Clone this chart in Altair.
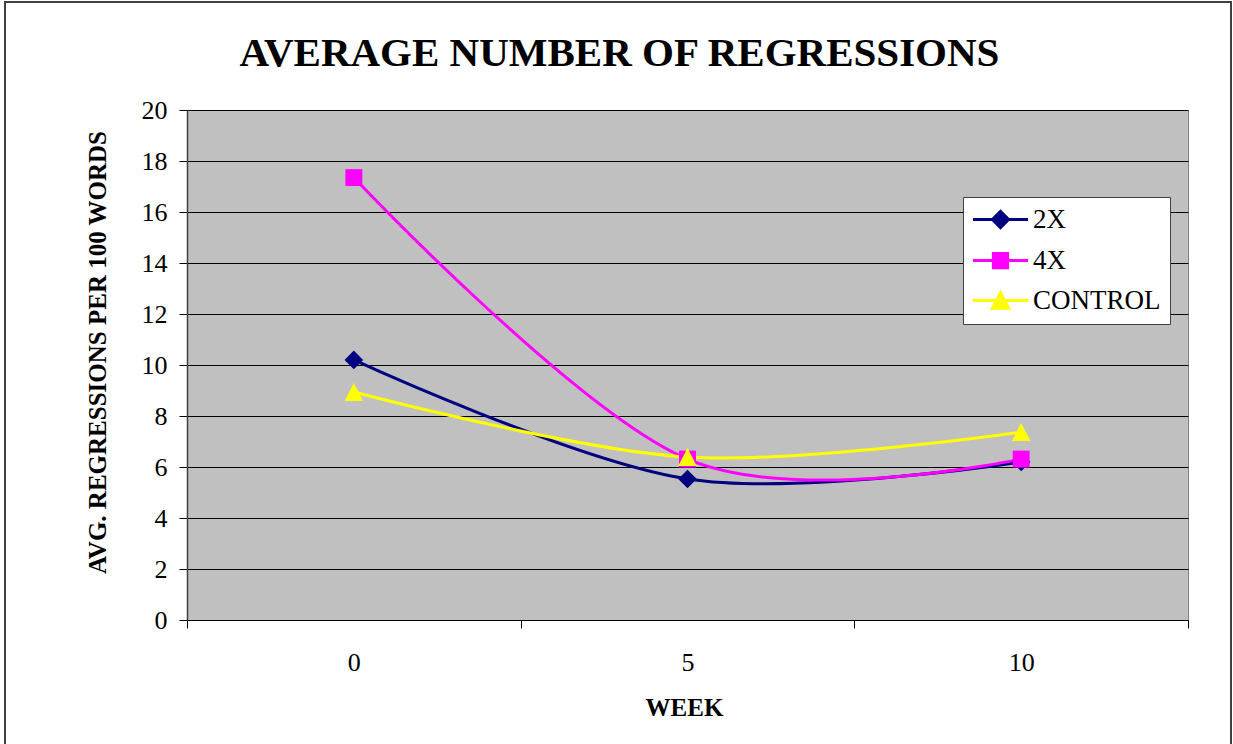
import altair as alt
import pandas as pd

# Average regressions per 100 words, by week and training group
weeks = [0, 5, 10]
series_names = ["2X", "4X", "CONTROL"]
avg_2x = [10.2, 5.53, 6.2]
avg_4x = [17.35, 6.31, 6.31]
avg_control = [8.94, 6.39, 7.37]

series_colors = ["#000080", "#FF00FF", "#FFFF00"]

# Marker outlines in unit coordinates (Vega scales them by sqrt(size)/2)
marker_paths = [
    "M0,-1L1,0L0,1L-1,0Z",
    "M-0.91,-0.91H0.91V0.91H-0.91Z",
    "M0,-0.97L1,0.97H-1Z",
]
# Legend keys: a short line segment with the marker in the middle
legend_paths = [
    "M-2.9,0H2.9M0,-0.85L0.85,0L0,0.85L-0.85,0Z",
    "M-2.9,0H2.9M-0.75,-0.75H0.75V0.75H-0.75Z",
    "M-2.9,0H2.9M0,-0.82L0.85,0.82H-0.85Z",
]

rows = []
for name, vals in zip(series_names, [avg_2x, avg_4x, avg_control]):
    for w, v in zip(weeks, vals):
        rows.append({"week": w, "series": name, "value": v})
df = pd.DataFrame(rows)

FONT = "Liberation Serif"

category_test = "datum.value == 0 || datum.value == 5 || datum.value == 10"

x_enc = alt.X(
    "week:Q",
    scale=alt.Scale(domain=[-2.5, 12.5], nice=False, zero=False),
    axis=alt.Axis(
        values=[-2.5, 0, 2.5, 5, 7.5, 10, 12.5],
        format="d",
        labelExpr=f"{category_test} ? datum.label : ''",
        tickOpacity={"condition": {"test": category_test, "value": 0}, "value": 1},
        labelOverlap=False,
        labelFont=FONT,
        labelFontSize=26,
        grid=False,
        tickSize=8,
        labelPadding=21,
        domainColor="black",
        title="WEEK",
        titleX=497,
        titleY=87,
        titleBaseline="middle",
        titleAlign="center",
    ),
)

y_enc = alt.Y(
    "value:Q",
    scale=alt.Scale(domain=[0, 20], nice=False),
    axis=alt.Axis(
        values=list(range(0, 21, 2)),
        labelFont=FONT,
        labelFontSize=26,
        grid=True,
        gridColor="black",
        gridWidth=1,
        gridOpacity=1,
        tickSize=8,
        labelPadding=12,
        domainColor="#404040",
        domainWidth=1.5,
        title="AVG. REGRESSIONS PER 100 WORDS",
        titleX=-90,
        titleY=242,
        titleAngle=270,
        titleBaseline="middle",
        titleAlign="center",
    ),
)

color_scale = alt.Scale(domain=series_names, range=series_colors)

legend = alt.Legend(
    title=None,
    orient="none",
    legendX=776,
    legendY=87,
    fillColor="white",
    strokeColor="#404040",
    padding=9,
    symbolSize=361,
    symbolStrokeWidth=3,
    symbolOpacity=1,
    symbolOffset=15,
    labelFont=FONT,
    labelFontSize=27,
    labelColor="black",
    labelOffset=19,
    labelLimit=300,
    rowPadding=12,
)

base = alt.Chart(df)

lines = base.mark_line(interpolate="cardinal", strokeWidth=3).encode(
    x=x_enc,
    y=y_enc,
    color=alt.Color("series:N", scale=color_scale, legend=None, sort=series_names),
    order=alt.Order("week:Q"),
)

points = base.mark_point(filled=True, size=346, opacity=1).encode(
    x=alt.X("week:Q"),
    y=alt.Y("value:Q"),
    color=alt.Color("series:N", scale=color_scale, legend=None, sort=series_names),
    shape=alt.Shape(
        "series:N",
        scale=alt.Scale(domain=series_names, range=marker_paths),
        legend=None,
    ),
)

# Layer that carries only the legend (no rows survive the filter)
legend_layer = (
    base.transform_filter("false")
    .mark_point(filled=True, strokeWidth=3, size=361)
    .encode(
        x=alt.X("week:Q"),
        y=alt.Y("value:Q"),
        fill=alt.Fill(
            "series:N",
            scale=alt.Scale(domain=series_names, range=series_colors),
            legend=legend,
        ),
        stroke=alt.Stroke(
            "series:N",
            scale=alt.Scale(domain=series_names, range=series_colors),
            legend=legend,
        ),
        shape=alt.Shape(
            "series:N",
            scale=alt.Scale(domain=series_names, range=legend_paths),
            legend=legend,
        ),
    )
)

# Thin frame around the whole figure
frame = alt.Chart(pd.DataFrame({"f": [0]})).mark_rect(
    fill=None, stroke="#404040", strokeWidth=2
).encode(
    x=alt.value(-182), x2=alt.value(1044), y=alt.value(-108), y2=alt.value(640)
)

chart = (
    alt.layer(frame, lines, points, legend_layer)
    .resolve_scale(shape="independent", fill="independent", stroke="independent")
    .properties(
        width=1001,
        height=510,
        autosize=alt.AutoSizeParams(type="none"),
        padding={"left": 187, "top": 110, "right": 45, "bottom": 124},
        background="white",
        title=alt.TitleParams(
            "AVERAGE NUMBER OF REGRESSIONS",
            font=FONT,
            fontSize=41,
            fontWeight="bold",
            color="black",
            anchor="middle",
            frame="group",
            dx=-68,
            baseline="alphabetic",
            offset=-106,
        ),
    )
    .configure_view(fill="#C0C0C0", stroke="#808080", strokeWidth=1)
    .configure_axis(
        labelFont=FONT,
        labelFontSize=26,
        labelColor="black",
        tickColor="black",
        titleFont=FONT,
        titleFontSize=25,
        titleFontWeight="bold",
        titleColor="black",
    )
    .configure_legend(labelFont=FONT, labelFontSize=27, labelColor="black")
)

chart.save("out.html", embed_options={"renderer": "svg", "actions": False})
